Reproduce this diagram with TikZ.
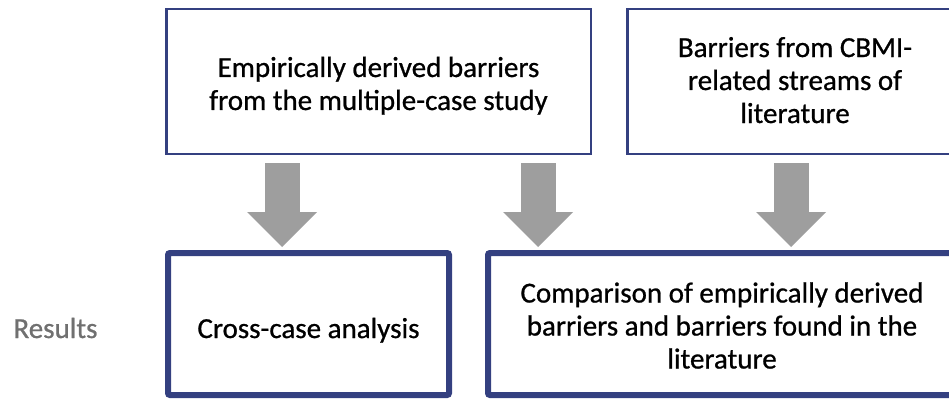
\documentclass[tikz,border=0pt]{standalone}
\usepackage{fontspec}
\setmainfont{Carlito}
\newfontfamily\boxfont{Carlito}[RawFeature={embolden=0.8}]
\usepackage{tikz}
\usepackage{xcolor}
\usetikzlibrary{calc, arrows.meta}

\definecolor{boxblue}{RGB}{52,64,128}
\definecolor{arrowgray}{RGB}{158,158,158}
\definecolor{labelgray}{RGB}{112,112,112}

\newcommand{\tstrut}[1]{\rule{0pt}{#1}}
\newcommand{\bstrut}{\rule[-8pt]{0pt}{8pt}}

\tikzset{
    inbox/.style={draw=boxblue, line width=2.5pt, inner sep=0pt, align=center, font=\boxfont\fontsize{29}{33}\selectfont},
    outbox/.style={inbox, line width=6pt, rounded corners=2pt},
    bigarrow/.style={draw=arrowgray, line width=35pt, -{Triangle[width=70pt, length=35pt, line width=0pt, fill=arrowgray]}}
}

\begin{document}
\begin{tikzpicture}[x=1pt, y=-1pt]
    \clip (0,0) rectangle (949,401);

    \node[inbox, minimum width=424.5pt, minimum height=144.5pt] (emp) at (378.5, 81.5) {\tstrut{32pt}Empirically derived barriers\\from the multiple-case study\bstrut};
    \node[inbox, minimum width=335.5pt, minimum height=144.5pt] (lit) at (795, 81.5) {\tstrut{25pt}Barriers from CBMI-\\related streams of\\literature\bstrut};

    \node[outbox, minimum width=281pt, minimum height=142pt] (cross) at (308.5, 324) {\tstrut{36pt}Cross-case analysis\bstrut};
    \node[outbox, minimum width=468pt, minimum height=142pt] (comp) at (722, 324) {\tstrut{31pt}Comparison of empirically derived\\barriers and barriers found in the\\literature\bstrut};

    \node[anchor=base, text=labelgray, font=\boxfont\fontsize{29}{33}\selectfont] (res) at (55.5, 338) {Results};

    \coordinate (A) at (282, 0);
    \coordinate (B) at (538, 0);
    \coordinate (C) at (791, 0);

    \draw[bigarrow] ($(A |- emp.south)+(0,8)$) -- ($(A |- cross.north)+(0,-3)$);
    \draw[bigarrow] ($(B |- emp.south)+(0,8)$) -- ($(B |- comp.north)+(0,-3)$);
    \draw[bigarrow] ($(C |- lit.south)+(0,8)$) -- ($(C |- comp.north)+(0,-3)$);
\end{tikzpicture}
\end{document}
